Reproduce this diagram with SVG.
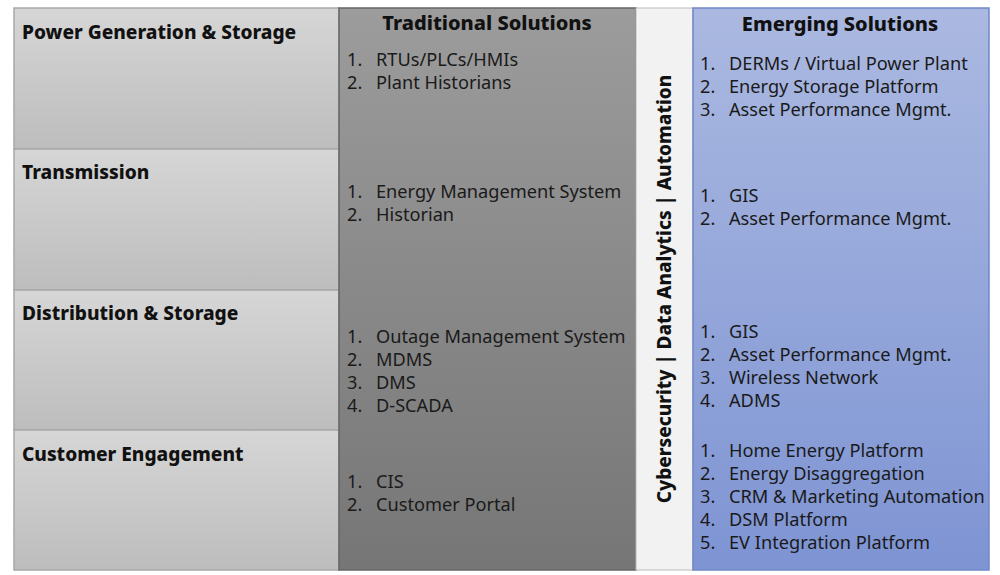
<svg xmlns="http://www.w3.org/2000/svg" width="1000" height="575" viewBox="0 0 1000 575">
<defs>
<linearGradient id="gCell" x1="0" y1="0" x2="0" y2="1"><stop offset="0" stop-color="#d6d6d6"/><stop offset="1" stop-color="#bdbdbd"/></linearGradient>
<linearGradient id="gTrad" x1="0" y1="0" x2="0" y2="1"><stop offset="0" stop-color="#9c9c9c"/><stop offset="1" stop-color="#767676"/></linearGradient>
<linearGradient id="gEmer" x1="0" y1="0" x2="0" y2="1"><stop offset="0" stop-color="#abb9e1"/><stop offset="1" stop-color="#7e94d3"/></linearGradient>
<style>
.cell{fill:url(#gCell);stroke:#a8a8a8;stroke-width:1.5}
.lbl{font-family:"Noto Sans","Open Sans",sans-serif;font-weight:800;font-size:19.1px;fill:#111}
.hdr{font-family:"Noto Sans","Open Sans",sans-serif;font-weight:800;font-size:20px;fill:#111;text-anchor:middle}
.vt{font-family:"Noto Sans","Open Sans",sans-serif;font-weight:800;font-size:19px;fill:#111;text-anchor:middle}
.it{font-family:"Noto Sans","Open Sans",sans-serif;font-size:18.2px;fill:#1a1a1a}
</style>
</defs>
<rect width="1000" height="575" fill="#ffffff"/>
<g id="row-power"><rect class="cell" x="14" y="8" width="325" height="141"/><text class="lbl" x="22" y="39">Power Generation &amp; Storage</text></g>
<g id="row-transmission"><rect class="cell" x="14" y="149" width="325" height="141"/><text class="lbl" x="22" y="179">Transmission</text></g>
<g id="row-distribution"><rect class="cell" x="14" y="290" width="325" height="140"/><text class="lbl" x="22" y="320">Distribution &amp; Storage</text></g>
<g id="row-customer"><rect class="cell" x="14" y="430" width="325" height="140"/><text class="lbl" x="22" y="461">Customer Engagement</text></g>
<g id="traditional">
<rect x="339" y="8" width="297" height="562" fill="url(#gTrad)" stroke="#666" stroke-width="1.5"/>
<text class="hdr" x="487" y="30">Traditional Solutions</text>
<g class="it">
<text x="347" y="66">1.</text><text x="376" y="66">RTUs/PLCs/HMIs</text>
<text x="347" y="89">2.</text><text x="376" y="89">Plant Historians</text>
<text x="347" y="198">1.</text><text x="376" y="198">Energy Management System</text>
<text x="347" y="221">2.</text><text x="376" y="221">Historian</text>
<text x="347" y="343">1.</text><text x="376" y="343">Outage Management System</text>
<text x="347" y="366">2.</text><text x="376" y="366">MDMS</text>
<text x="347" y="389">3.</text><text x="376" y="389">DMS</text>
<text x="347" y="412">4.</text><text x="376" y="412">D-SCADA</text>
<text x="347" y="488">1.</text><text x="376" y="488">CIS</text>
<text x="347" y="511">2.</text><text x="376" y="511">Customer Portal</text>
</g>
</g>
<g id="cross-cutting">
<rect x="636" y="8" width="57" height="562" fill="#f2f2f2" stroke="#bbb" stroke-width="1"/>
<text class="vt" transform="translate(671,289) rotate(-90)">Cybersecurity | Data Analytics | Automation</text>
</g>
<g id="emerging">
<rect x="693" y="8" width="296" height="562" fill="url(#gEmer)" stroke="#7087c8" stroke-width="1.5"/>
<text class="hdr" x="840" y="31">Emerging Solutions</text>
<g class="it">
<text x="700" y="70">1.</text><text x="729" y="70">DERMs / Virtual Power Plant</text>
<text x="700" y="93">2.</text><text x="729" y="93">Energy Storage Platform</text>
<text x="700" y="116">3.</text><text x="729" y="116">Asset Performance Mgmt.</text>
<text x="700" y="202">1.</text><text x="729" y="202">GIS</text>
<text x="700" y="225">2.</text><text x="729" y="225">Asset Performance Mgmt.</text>
<text x="700" y="338">1.</text><text x="729" y="338">GIS</text>
<text x="700" y="361">2.</text><text x="729" y="361">Asset Performance Mgmt.</text>
<text x="700" y="384">3.</text><text x="729" y="384">Wireless Network</text>
<text x="700" y="407">4.</text><text x="729" y="407">ADMS</text>
<text x="700" y="457">1.</text><text x="729" y="457">Home Energy Platform</text>
<text x="700" y="480">2.</text><text x="729" y="480">Energy Disaggregation</text>
<text x="700" y="503">3.</text><text x="729" y="503">CRM &amp; Marketing Automation</text>
<text x="700" y="526">4.</text><text x="729" y="526">DSM Platform</text>
<text x="700" y="549">5.</text><text x="729" y="549">EV Integration Platform</text>
</g>
</g>
<g id="connectors"/>
</svg>
